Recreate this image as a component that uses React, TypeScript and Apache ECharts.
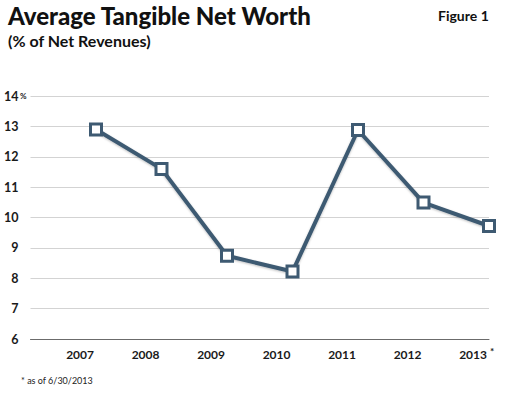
import React, { useEffect, useRef } from "react";
import * as echarts from "echarts";

const years = [2007, 2008, 2009, 2010, 2011, 2012, 2013];
const values = [12.9, 11.6, 8.74, 8.22, 12.88, 10.49, 9.72];
const yTicks = [6, 7, 8, 9, 10, 11, 12, 13, 14];

const LINE = "#3e5a72";
const FONT = "Lato";

export default function App() {
  const ref = useRef<HTMLDivElement>(null);
  useEffect(() => {
    if (!ref.current) return;
    const chart = echarts.init(ref.current, undefined, { renderer: "svg" });
    chart.setOption({
      animation: false,
      backgroundColor: "#ffffff",
      grid: { left: 30.5, right: 30, top: 96, bottom: 57, containLabel: false },
      xAxis: {
        type: "value",
        min: 2006,
        max: 2013,
        interval: 1,
        axisLine: { show: true, lineStyle: { color: "#6b6b6b", width: 1 } },
        axisTick: { show: false },
        splitLine: { show: false },
        axisLabel: {
          margin: 9,
          align: "right",
          padding: [0, 2, 0, 0],
          fontFamily: FONT,
          fontWeight: "bold",
          fontSize: 12,
          color: "#1a1a1a",
          formatter: (v: number) => (years.includes(v) ? String(v) : ""),
        },
      },
      yAxis: {
        type: "value",
        min: yTicks[0],
        max: yTicks[yTicks.length - 1],
        interval: 1,
        axisLine: { show: false },
        axisTick: { show: false },
        splitLine: { show: true, lineStyle: { color: "#d3d3d3", width: 1 } },
        axisLabel: {
          margin: 12,
          fontFamily: FONT,
          fontWeight: "bold",
          fontSize: 12.5,
          color: "#1a1a1a",
        },
      },
      series: [
        {
          type: "line",
          data: years.map((y, i) => [y, values[i]]),
          lineStyle: {
            color: LINE,
            width: 4,
            shadowColor: "rgba(0,0,0,0.25)",
            shadowBlur: 2,
            shadowOffsetY: 1,
          },
          symbol: "rect",
          symbolSize: 11,
          showAllSymbol: true,
          itemStyle: {
            color: "#ffffff",
            borderColor: LINE,
            borderWidth: 3,
          },
          z: 3,
        },
      ],
      graphic: [
        {
          type: "text",
          left: 8,
          top: 3,
          style: {
            text: "Average Tangible Net Worth",
            font: `900 24px ${FONT}`,
            fill: "#111111",
          },
        },
        {
          type: "text",
          left: 8,
          top: 32,
          style: {
            text: "(% of Net Revenues)",
            font: `bold 16px ${FONT}`,
            fill: "#111111",
          },
        },
        {
          type: "text",
          left: 438,
          top: 8,
          style: {
            text: "Figure 1",
            font: `bold 14px ${FONT}`,
            fill: "#111111",
          },
        },
        {
          type: "text",
          left: 20,
          top: 92,
          style: {
            text: "%",
            font: `bold 8px ${FONT}`,
            fill: "#1a1a1a",
          },
        },
        {
          type: "text",
          left: 490,
          top: 346,
          style: {
            text: "*",
            font: `bold 10px ${FONT}`,
            fill: "#1a1a1a",
          },
        },
        {
          type: "text",
          left: 21,
          top: 376,
          style: {
            text: "* as of 6/30/2013",
            font: `9px ${FONT}`,
            fill: "#222222",
          },
        },
      ],
    });
    return () => chart.dispose();
  }, []);
  return <div ref={ref} style={{ width: 519, height: 396, position: "absolute", left: 0, top: 0 }} />;
}
